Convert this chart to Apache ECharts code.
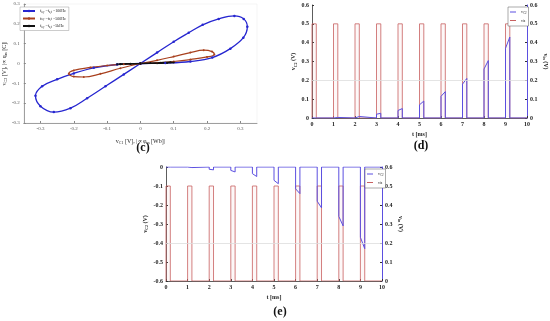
<!DOCTYPE html>
<html><head><meta charset="utf-8">
<script src="https://cdn.jsdelivr.net/npm/echarts@6/dist/echarts.min.js"></script>
<style>html,body{margin:0;padding:0;background:#fff}#c{width:550px;height:321px}</style>
</head><body><div id="c"></div>
<script>
// ---------- panel (c) data ----------
const loopXTicks = [-0.3, -0.2, -0.1, 0, 0.1, 0.2, 0.3];
const blueLoop = [[0,0],[0.05,0.055],[0.1,0.11],[0.145,0.155],[0.187,0.195],[0.235,0.225],[0.282,0.24],[0.31,0.225],[0.321,0.185],[0.309,0.13],[0.27,0.075],[0.216,0.03],[0.15,0.01],[0.075,0.002],[0,0],
  [-0.07,-0.005],[-0.14,-0.022],[-0.2,-0.05],[-0.25,-0.08],[-0.295,-0.115],[-0.315,-0.163],[-0.3,-0.215],[-0.26,-0.245],[-0.21,-0.225],[-0.16,-0.175],[-0.105,-0.115],[-0.05,-0.055],[0,0]];
const redLoop = [[0,0],[0.05,0.016],[0.1,0.035],[0.15,0.055],[0.19,0.067],[0.215,0.06],[0.222,0.046],[0.2,0.033],[0.15,0.02],[0.1,0.01],[0.05,0.003],[0,0],
  [-0.05,-0.004],[-0.1,-0.01],[-0.15,-0.02],[-0.2,-0.035],[-0.215,-0.052],[-0.2,-0.066],[-0.17,-0.068],[-0.12,-0.052],[-0.06,-0.024],[0,0]];
const blackLoop = [[0,0],[0.03,0.002],[0.06,0.004],[0.09,0.006],[0.1,0.005],[0.08,0.003],[0.05,0.001],[0,0],[-0.03,-0.002],[-0.06,-0.004],[-0.07,-0.004],[-0.06,-0.002],[-0.03,-0.001],[0,0]];
const loopNames = ['100Hz', '500Hz', '5kHz'];

// ---------- panels (d), (e) data ----------
const pulseOn  = [0, 1, 2, 3, 4, 5, 6, 7, 8, 9];
const pulseOff = [0.2, 1.2, 2.2, 3.2, 4.2, 5.2, 6.2, 7.2, 8.2, 9.2];
const vinHigh = 0.5;
const vc2StartD = [0, 0.002, 0.005, 0.02, 0.04, 0.07, 0.115, 0.18, 0.26, 0.37];
const vc2EndD   = [0, 0.003, 0.008, 0.025, 0.05, 0.09, 0.14, 0.21, 0.305, 0.43];
const vc2StartE = [0, -0.002, -0.012, -0.018, -0.035, -0.07, -0.115, -0.18, -0.26, -0.37];
const vc2EndE   = [0, -0.003, -0.015, -0.026, -0.05, -0.088, -0.14, -0.215, -0.31, -0.43];
const tEnd = 10;

function pulseTrain(on, off, startVals, endVals) {
  const d = [];
  for (let i = 0; i < on.length; i++) {
    d.push([on[i], 0], [on[i], startVals[i]], [off[i], endVals[i]], [off[i], 0]);
  }
  d.push([tEnd, 0]);
  return d;
}
const vinData = pulseTrain(pulseOn, pulseOff, pulseOn.map(() => vinHigh), pulseOn.map(() => vinHigh));
const vc2D = pulseTrain(pulseOn, pulseOff, vc2StartD, vc2EndD);
const vc2E = pulseTrain(pulseOn, pulseOff, vc2StartE, vc2EndE);

const SERIF = 'Liberation Serif';
const BLUE2 = '#5b4fe0', RED2 = '#c86060';
const rich = {
  n: {fontSize: 6, fontFamily: SERIF, color: '#222', lineHeight: 8, verticalAlign: 'middle'},
  s: {fontSize: 4, fontFamily: SERIF, color: '#222', lineHeight: 8, verticalAlign: 'bottom'},
  nb: {fontSize: 6, fontFamily: SERIF, color: '#222', fontWeight: 'bold', lineHeight: 8, verticalAlign: 'middle'},
  sb: {fontSize: 4, fontFamily: SERIF, color: '#222', fontWeight: 'bold', lineHeight: 8, verticalAlign: 'bottom'}
};
const legRich = {
  n: {fontSize: 4, fontFamily: SERIF, color: '#222', lineHeight: 5},
  s: {fontSize: 3, fontFamily: SERIF, color: '#222', lineHeight: 5, verticalAlign: 'bottom'}
};

const lblC = {fontSize: 5, fontFamily: SERIF, color: '#555'};
const lblDE = {fontSize: 6, fontFamily: SERIF, color: '#222', fontWeight: 'bold'};

const chart = echarts.init(document.getElementById('c'), null, {renderer: 'canvas'});
chart.setOption({
  animation: false,
  backgroundColor: '#fff',
  grid: [
    {left: 21, right: 293, top: 4, bottom: 198, show: true, borderColor: '#e8e8e8', borderWidth: 0.5},
    {left: 312, right: 22, top: 5, bottom: 203},
    {left: 166, right: 168, top: 167, bottom: 40}
  ],
  xAxis: [
    {gridIndex: 0, type: 'value', min: -0.35, max: 0.35,
     axisLine: {onZero: false, lineStyle: {color: '#888', width: 0.8}},
     axisTick: {inside: true, length: 2, customValues: loopXTicks, lineStyle: {color: '#888'}},
     axisLabel: {...lblC, margin: 3, customValues: loopXTicks, formatter: v => String(Math.round(v*10)/10)},
     splitLine: {show: false},
     name: '{n|v}{s|C1}{n| [V], |\u221D \u03C6}{s|m}{n| [Wb]|}', nameLocation: 'middle', nameGap: 14,
     nameTextStyle: {rich}},
    {gridIndex: 1, type: 'value', min: 0, max: 10, interval: 1,
     axisLine: {onZero: false, lineStyle: {color: '#333', width: 0.8}},
     axisTick: {inside: true, length: 2, lineStyle: {color: '#333'}},
     axisLabel: {...lblDE, margin: 3}, splitLine: {show: false},
     name: 't [ms]', nameLocation: 'middle', nameGap: 13,
     nameTextStyle: {fontSize: 6, fontFamily: SERIF, fontWeight: 'bold', color: '#222'}},
    {gridIndex: 2, type: 'value', min: 0, max: 10, interval: 1,
     axisLine: {onZero: false, lineStyle: {color: '#333', width: 0.8}},
     axisTick: {inside: true, length: 2, lineStyle: {color: '#333'}},
     axisLabel: {...lblDE, margin: 3}, splitLine: {show: false},
     name: 't [ms]', nameLocation: 'middle', nameGap: 13,
     nameTextStyle: {fontSize: 6, fontFamily: SERIF, fontWeight: 'bold', color: '#222'}}
  ],
  yAxis: [
    {gridIndex: 0, type: 'value', min: -0.3, max: 0.3, interval: 0.1,
     axisLine: {show: true, onZero: false, lineStyle: {color: '#888', width: 0.8}},
     axisTick: {show: true, inside: true, length: 2, lineStyle: {color: '#888'}},
     axisLabel: {...lblC, margin: 4, formatter: v => String(Math.round(v*10)/10)},
     splitLine: {show: false},
     name: '{n|v}{s|C2}{n| [V], |\u221D q}{s|m}{n| [C]|}', nameLocation: 'middle', nameGap: 11,
     nameTextStyle: {rich}},
    {gridIndex: 1, type: 'value', min: 0, max: 0.6, interval: 0.1, position: 'left',
     axisLine: {show: true, onZero: false, lineStyle: {color: '#333', width: 0.8}},
     axisTick: {show: true, inside: true, length: 2},
     axisLabel: {...lblDE, margin: 3, formatter: v => String(Math.round(v*10)/10)},
     splitLine: {show: false},
     name: '{nb|v}{sb|C2}{nb| (V)}', nameLocation: 'middle', nameGap: 14, nameTextStyle: {rich}},
    {gridIndex: 1, type: 'value', min: 0, max: 0.6, interval: 0.1, position: 'right',
     axisLine: {show: true, onZero: false, lineStyle: {color: BLUE2, width: 1}},
     axisTick: {show: true, inside: true, length: 2, lineStyle: {color: '#333'}},
     axisLabel: {...lblDE, margin: 3, formatter: v => String(Math.round(v*10)/10)},
     splitLine: {show: false},
     name: '{nb|v}{sb|in}{nb| (V)}', nameLocation: 'middle', nameGap: 15, nameRotate: -90, nameTextStyle: {rich}},
    {gridIndex: 2, type: 'value', min: -0.6, max: 0, interval: 0.1, position: 'left',
     axisLine: {show: true, onZero: false, lineStyle: {color: '#333', width: 0.8}},
     axisTick: {show: true, inside: true, length: 2},
     axisLabel: {...lblDE, margin: 3, formatter: v => String(Math.round(v*10)/10)},
     splitLine: {show: false},
     name: '{nb|v}{sb|C2}{nb| (V)}', nameLocation: 'middle', nameGap: 17, nameTextStyle: {rich}},
    {gridIndex: 2, type: 'value', min: 0, max: 0.6, interval: 0.1, position: 'right',
     axisLine: {show: true, onZero: false, lineStyle: {color: BLUE2, width: 1}},
     axisTick: {show: true, inside: true, length: 2, lineStyle: {color: '#333'}},
     axisLabel: {...lblDE, margin: 3, formatter: v => String(Math.round(v*10)/10)},
     splitLine: {show: false},
     name: '{nb|v}{sb|in}{nb| (V)}', nameLocation: 'middle', nameGap: 15, nameRotate: -90, nameTextStyle: {rich}}
  ],
  legend: [
    {left: 20, top: 7, orient: 'vertical', data: loopNames, itemWidth: 12, itemHeight: 3, itemGap: 3,
     padding: [2, 3, 2, 2], borderColor: '#999', borderWidth: 0.5, backgroundColor: '#fff',
     formatter: n => '{n|f}{s|a,r}{n| =f}{s|a,t}{n| =' + n + '}', textStyle: {rich: legRich}},
    {left: 508, top: 7, orient: 'vertical', data: ['vC2d', 'vind'], icon: 'rect', itemWidth: 6, itemHeight: 1, itemGap: 4,
     padding: [3, 2, 3, 2], borderColor: '#555', borderWidth: 0.5, backgroundColor: '#fff',
     formatter: n => n === 'vC2d' ? '{n|v}{s|C2}' : '{n|v}{s|in}', textStyle: {rich: legRich}},
    {left: 365, top: 169, orient: 'vertical', data: ['vC2e', 'vine'], icon: 'rect', itemWidth: 6, itemHeight: 1, itemGap: 4,
     padding: [3, 2, 3, 2], borderColor: '#555', borderWidth: 0.5, backgroundColor: '#fff',
     formatter: n => n === 'vC2e' ? '{n|v}{s|C2}' : '{n|v}{s|in}', textStyle: {rich: legRich}}
  ],
  graphic: [
    {type: 'text', x: 143, y: 148, style: {text: '(c)', font: 'bold 12px "Liberation Serif"', fill: '#111', align: 'center', verticalAlign: 'middle'}},
    {type: 'text', x: 421, y: 146, style: {text: '(d)', font: 'bold 12px "Liberation Serif"', fill: '#111', align: 'center', verticalAlign: 'middle'}},
    {type: 'text', x: 280, y: 312, style: {text: '(e)', font: 'bold 12px "Liberation Serif"', fill: '#111', align: 'center', verticalAlign: 'middle'}}
  ],
  series: [
    {name: loopNames[0], type: 'line', xAxisIndex: 0, yAxisIndex: 0, data: blueLoop, smooth: 0.4,
     symbol: 'circle', symbolSize: 2.5, color: '#2626d0', lineStyle: {width: 1.3, color: '#2626d0'}},
    {name: loopNames[1], type: 'line', xAxisIndex: 0, yAxisIndex: 0, data: redLoop, smooth: 0.4,
     symbol: 'circle', symbolSize: 2, color: '#a8401e', lineStyle: {width: 1.2, color: '#a8401e'}},
    {name: loopNames[2], type: 'line', xAxisIndex: 0, yAxisIndex: 0, data: blackLoop, smooth: 0.4,
     symbol: 'circle', symbolSize: 2, color: '#111', lineStyle: {width: 1.4, color: '#111'}},
    {name: 'vind', type: 'line', xAxisIndex: 1, yAxisIndex: 2, data: vinData, showSymbol: false,
     color: RED2, lineStyle: {width: 0.8, color: RED2}, areaStyle: {color: 'rgba(235,170,170,0.12)'},
     markLine: {silent: true, symbol: 'none', label: {show: false}, lineStyle: {color: '#ddd', width: 0.8, type: 'solid'}, data: [{yAxis: 0.2}]}},
    {name: 'vC2d', type: 'line', xAxisIndex: 1, yAxisIndex: 1, data: vc2D, showSymbol: false,
     color: BLUE2, lineStyle: {width: 1, color: BLUE2}},
    {name: 'vine', type: 'line', xAxisIndex: 2, yAxisIndex: 4, data: vinData, showSymbol: false,
     color: RED2, lineStyle: {width: 0.8, color: RED2}, areaStyle: {color: 'rgba(235,170,170,0.12)'},
     markLine: {silent: true, symbol: 'none', label: {show: false}, lineStyle: {color: '#ddd', width: 0.8, type: 'solid'}, data: [{yAxis: 0.2}]}},
    {name: 'vC2e', type: 'line', xAxisIndex: 2, yAxisIndex: 3, data: vc2E, showSymbol: false,
     color: BLUE2, lineStyle: {width: 1, color: BLUE2}}
  ]
});
</script></body></html>
